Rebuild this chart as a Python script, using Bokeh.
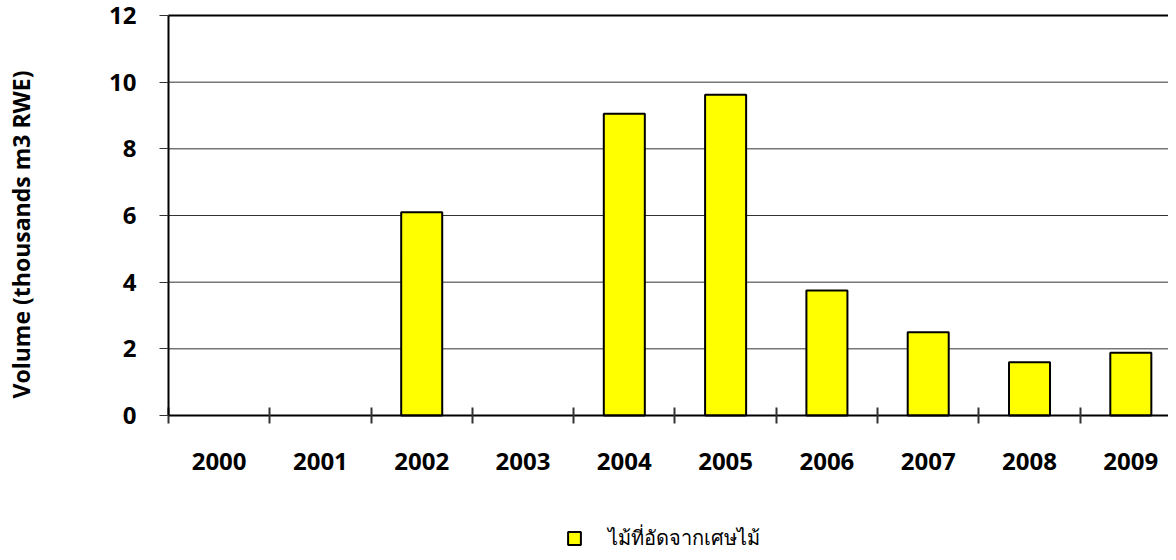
from bokeh.plotting import figure
from bokeh.models import Range1d, FixedTicker, Legend, LegendItem, ColumnDataSource, LinearAxis
from bokeh.embed import file_html
from bokeh.resources import INLINE

years = ["2000", "2001", "2002", "2003", "2004", "2005", "2006", "2007", "2008", "2009"]
volume = [None, None, 6.1, None, 9.05, 9.62, 3.75, 2.5, 1.6, 1.88]
y_ticks = [0, 2, 4, 6, 8, 10, 12]
series_name = "ไม้ที่อัดจากเศษไม้"
y_title = "Volume (thousands m3 RWE)"

X_END = 9.872
xs = [i + 0.5 for i in range(len(years))]
tops = [v if v is not None else float("nan") for v in volume]
src = ColumnDataSource(dict(x=xs, top=tops))
grid_src = ColumnDataSource(dict(y=y_ticks[:-1], x0=[0] * (len(y_ticks) - 1), x1=[X_END] * (len(y_ticks) - 1)))
top_src = ColumnDataSource(dict(y=[max(y_ticks)], x0=[0], x1=[X_END]))

p = figure(width=1168, height=552, x_range=Range1d(-1.658, X_END), y_range=Range1d(-4.11, 12.45),
           output_backend="svg", toolbar_location=None, x_axis_location=None, y_axis_location=None,
           min_border_left=0, min_border_right=0, min_border_top=0, min_border_bottom=0)
p.outline_line_color = None
p.background_fill_color = "white"
p.xgrid.grid_line_color = None
p.ygrid.grid_line_color = None

# horizontal gridlines and top border
p.segment(x0="x0", x1="x1", y0="y", y1="y", source=grid_src, line_color="#333333", line_width=1)
p.segment(x0="x0", x1="x1", y0="y", y1="y", source=top_src, line_color="black", line_width=2)

r = p.vbar(x="x", top="top", width=0.405, bottom=0, source=src,
           fill_color="#ffff00", line_color="black", line_width=2)

# x axis
xax = LinearAxis(fixed_location=0, bounds=(0, X_END))
xax.ticker = FixedTicker(ticks=xs, minor_ticks=list(range(len(years) + 1)))
xax.major_label_overrides = {x: y for x, y in zip(xs, years)}
xax.major_tick_in = 0
xax.major_tick_out = 0
xax.minor_tick_in = 8
xax.minor_tick_out = 8
xax.minor_tick_line_color = "#333333"
xax.minor_tick_line_width = 2
xax.axis_line_width = 2
xax.axis_line_color = "black"
xax.major_label_text_font = "Open Sans"
xax.major_label_text_font_size = "24px"
xax.major_label_text_font_style = "bold"
xax.major_label_text_color = "black"
xax.major_label_standoff = 29
p.add_layout(xax, "below")

# y axis
yax = LinearAxis(fixed_location=0, bounds=(0, 12))
yax.ticker = FixedTicker(ticks=y_ticks)
yax.major_tick_in = 0
yax.major_tick_out = 9
yax.major_tick_line_color = "#333333"
yax.minor_tick_line_color = None
yax.axis_line_width = 2
yax.axis_line_color = "black"
yax.major_label_text_font = "Open Sans"
yax.major_label_text_font_size = "24px"
yax.major_label_text_font_style = "bold"
yax.major_label_text_color = "black"
yax.major_label_standoff = 23
p.add_layout(yax, "left")

# axis title (separate, label-only axis so it can sit where the original does)
tax = LinearAxis(fixed_location=0, bounds=(-1.14, 12))
tax.ticker = FixedTicker(ticks=[])
tax.axis_line_color = None
tax.major_tick_line_color = None
tax.minor_tick_line_color = None
tax.major_tick_out = 0
tax.major_tick_in = 0
tax.major_label_standoff = 0
tax.axis_label = y_title
tax.axis_label_standoff = 132
tax.axis_label_text_font = "Open Sans"
tax.axis_label_text_font_size = "23px"
tax.axis_label_text_font_style = "bold"
tax.axis_label_text_color = "black"
p.add_layout(tax, "left")

legend = Legend(items=[LegendItem(label=series_name, renderers=[r])],
                location=(566, -2), padding=0, margin=0, spacing=0,
                glyph_width=16, glyph_height=16, label_standoff=26,
                border_line_color=None, background_fill_alpha=0,
                label_text_font="DejaVu Serif", label_text_font_size="20px",
                label_text_line_height=1.0, label_text_color="black")
p.add_layout(legend)

open("out.html", "w").write(file_html(p, INLINE))
